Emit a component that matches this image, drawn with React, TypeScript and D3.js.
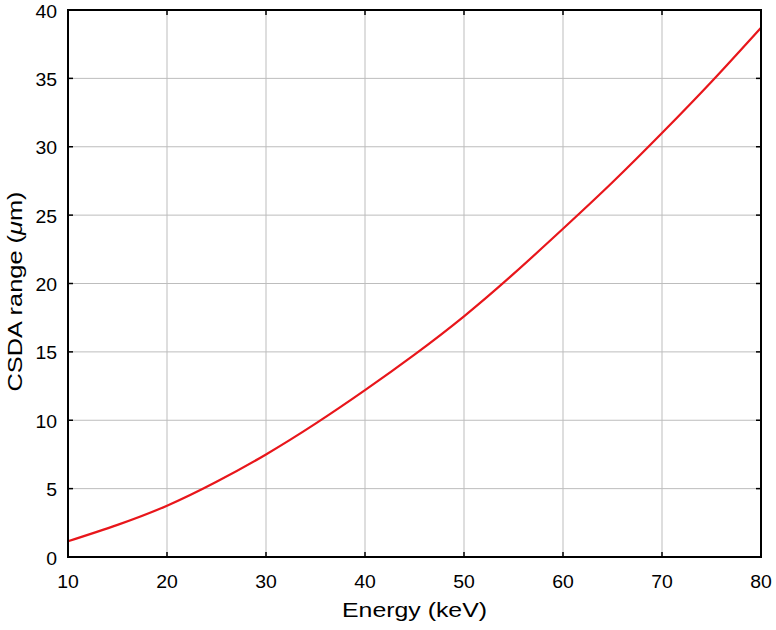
import React from "react";
import * as d3 from "d3";

const energies = [10, 15, 20, 25, 30, 35, 40, 45, 50, 55, 60, 65, 70, 75, 80];
const ranges = [1.15, 2.35, 3.75, 5.5, 7.5, 9.75, 12.2, 14.8, 17.6, 20.7, 24.0, 27.4, 31.0, 34.75, 38.7];
const xTicks = [10, 20, 30, 40, 50, 60, 70, 80];
const yTicks = [0, 5, 10, 15, 20, 25, 30, 35, 40];

const W = 776, H = 630;
const L = 68, R = 761, T = 10, B = 557;
const font = "'Liberation Sans', Arial, Helvetica, sans-serif";

export default function App() {
  const x = d3.scaleLinear().domain([10, 80]).range([L, R]);
  const y = d3.scaleLinear().domain([0, 40]).range([B, T]);
  const data = energies.map((e, i) => [e, ranges[i]] as [number, number]);
  const line = d3.line<[number, number]>().x(d => x(d[0])).y(d => y(d[1])).curve(d3.curveNatural);
  const tk = 5;
  const digitW = 10.8;
  return (
    <svg width={W} height={H} style={{ position: "absolute", left: 0, top: 0, background: "#fff" }}>
      <rect x={0} y={0} width={W} height={H} fill="#fff" />
      {xTicks.map(t => (
        <line key={"gx" + t} x1={x(t)} x2={x(t)} y1={T} y2={B} stroke="#bdbdbd" strokeWidth={1} />
      ))}
      {yTicks.map(t => (
        <line key={"gy" + t} x1={L} x2={R} y1={y(t)} y2={y(t)} stroke="#bdbdbd" strokeWidth={1} />
      ))}
      <path d={line(data) || ""} fill="none" stroke="#e8161b" strokeWidth={2.2} />
      {xTicks.map(t => (
        <g key={"tx" + t}>
          <line x1={x(t)} x2={x(t)} y1={B} y2={B - tk} stroke="#000" strokeWidth={1.5} />
          <line x1={x(t)} x2={x(t)} y1={T} y2={T + tk} stroke="#000" strokeWidth={1.5} />
          <text x={x(t)} y={588} textAnchor="middle" fontFamily={font} fontSize={17.5} fill="#000"
            textLength={String(t).length * digitW} lengthAdjust="spacingAndGlyphs">{t}</text>
        </g>
      ))}
      {yTicks.map(t => (
        <g key={"ty" + t}>
          <line x1={L} x2={L + tk} y1={y(t)} y2={y(t)} stroke="#000" strokeWidth={1.5} />
          <line x1={R} x2={R - tk} y1={y(t)} y2={y(t)} stroke="#000" strokeWidth={1.5} />
          <text x={57} y={y(t) + 7.5} textAnchor="end" fontFamily={font} fontSize={17.5} fill="#000"
            textLength={String(t).length * digitW} lengthAdjust="spacingAndGlyphs">{t}</text>
        </g>
      ))}
      <rect x={L} y={T} width={R - L} height={B - T} fill="none" stroke="#000" strokeWidth={2} />
      <text x={(L + R) / 2} y={617} textAnchor="middle" fontFamily={font} fontSize={21} fill="#000"
        textLength={145} lengthAdjust="spacingAndGlyphs">Energy (keV)</text>
      <text transform={`translate(22, ${(T + B) / 2 + 8}) rotate(-90)`} textAnchor="middle" fontFamily={font} fontSize={21} fill="#000"
        textLength={200} lengthAdjust="spacingAndGlyphs">
        CSDA range (<tspan fontStyle="italic">μ</tspan>m)
      </text>
    </svg>
  );
}
